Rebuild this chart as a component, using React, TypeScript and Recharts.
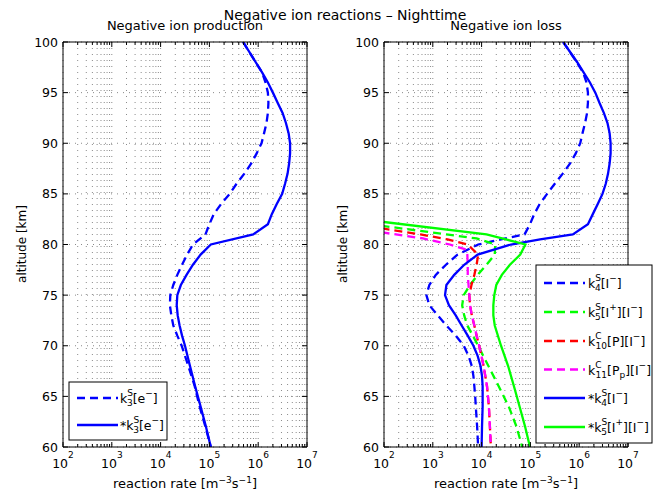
import React from 'react';
import { CartesianGrid, Line, LineChart, XAxis, YAxis } from 'recharts';

const FONT = '"DejaVu Sans", Verdana, sans-serif';

// ---- left panel: negative ion production ----
const altProd = [100, 98, 97, 96, 95, 94, 93, 92, 91, 90, 89, 88, 87, 86, 85, 84, 83, 82, 81, 80, 79, 78, 77, 76, 75, 74, 73, 72, 71, 70, 68, 66, 64, 62, 60];
const k3Dashed = [4.9e5, 8.9e5, 1.2e6, 1.41e6, 1.58e6, 1.62e6, 1.58e6, 1.48e6, 1.32e6, 1.17e6, 9.3e5, 7.2e5, 5.2e5, 3.6e5, 2.6e5, 1.74e5, 1.23e5, 1.0e5, 8.3e4, 4.6e4, 3.5e4, 2.75e4, 2.2e4, 1.82e4, 1.58e4, 1.55e4, 1.66e4, 1.82e4, 2.2e4, 2.7e4, 3.7e4, 5.0e4, 6.3e4, 8.3e4, 1.07e5];
const k3Solid = [4.9e5, 8.9e5, 1.2e6, 1.58e6, 2.0e6, 2.5e6, 3.16e6, 3.7e6, 4.2e6, 4.5e6, 4.5e6, 4.3e6, 4.0e6, 3.55e6, 3.1e6, 2.4e6, 1.9e6, 1.58e6, 7.9e5, 1.07e5, 6.6e4, 4.6e4, 3.4e4, 2.6e4, 2.2e4, 2.14e4, 2.24e4, 2.45e4, 2.75e4, 3.16e4, 4.0e4, 5.1e4, 6.6e4, 8.5e4, 1.07e5];

// ---- right panel: negative ion loss ----
const altLoss = [100, 98, 97, 96, 95, 94, 93, 92, 91, 90, 89, 88, 87, 86, 85, 84, 83, 82, 81, 80.5, 80, 79, 78, 77, 76, 75, 74, 73, 72, 71, 70, 69, 68, 67, 66, 65, 64, 62, 60];
const k4Dashed = [4.7e5, 8.9e5, 1.2e6, 1.41e6, 1.51e6, 1.51e6, 1.45e6, 1.32e6, 1.17e6, 1.05e6, 8.5e5, 6.5e5, 4.6e5, 3.16e5, 2.2e5, 1.55e5, 1.2e5, 9.8e4, 7.6e4, 2.5e4, 8.5e3, 3.2e3, 1.86e3, 1.15e3, 850, 740, 850, 1.26e3, 1.9e3, 2.95e3, 4.3e3, 5.4e3, 6.3e3, 6.8e3, 7.1e3, 7.4e3, 7.6e3, 8.1e3, 8.5e3];
const k4Solid = [4.7e5, 9.1e5, 1.23e6, 1.66e6, 2.14e6, 2.6e6, 3.2e6, 3.8e6, 4.2e6, 4.4e6, 4.4e6, 4.2e6, 3.9e6, 3.5e6, 3.0e6, 2.4e6, 1.9e6, 1.51e6, 7.4e5, 1.58e5, 4.0e4, 8.3e3, 4.4e3, 2.75e3, 1.9e3, 1.78e3, 2.14e3, 2.95e3, 3.9e3, 5.2e3, 6.8e3, 8.3e3, 9.5e3, 1.02e4, 1.05e4, 1.05e4, 1.05e4, 1.02e4, 1.0e4];

const altK5Dashed = [81.85, 81, 80.6, 80, 79, 78, 77, 76, 75, 74, 73, 72, 71, 70, 68, 66, 64, 62, 60];
const k5Dashed = [89, 1.9e3, 7.9e3, 1.9e4, 1.86e4, 1.26e4, 8.3e3, 5.8e3, 4.3e3, 4.0e3, 4.4e3, 5.1e3, 6.6e3, 8.5e3, 1.38e4, 2.24e4, 3.6e4, 5.2e4, 6.8e4];

const altK10 = [81.6, 81, 80.5, 80, 79, 78, 77, 76, 75, 74, 73, 72, 71, 70, 68, 66, 64, 62, 60];
const k10Dashed = [89, 560, 2.0e3, 5.2e3, 8.5e3, 7.9e3, 7.1e3, 6.2e3, 5.6e3, 5.8e3, 6.3e3, 7.1e3, 7.9e3, 8.9e3, 1.1e4, 1.29e4, 1.41e4, 1.48e4, 1.55e4];

const altK11 = [81.2, 80.6, 80, 79.5, 79, 78, 77, 76, 75, 74, 73, 72, 71, 70, 68, 66, 64, 62, 60];
const k11Dashed = [89, 630, 2.24e3, 4.8e3, 5.1e3, 5.2e3, 5.2e3, 5.4e3, 5.6e3, 5.8e3, 6.3e3, 7.1e3, 7.9e3, 8.9e3, 1.1e4, 1.29e4, 1.41e4, 1.48e4, 1.55e4];

const altK5Solid = [82.25, 81, 80.5, 80, 79, 78, 77, 76, 75, 74, 73, 72, 70, 68, 66, 64, 62, 60];
const k5Solid = [89, 1.26e4, 3.16e4, 7.9e4, 6.2e4, 3.8e4, 2.6e4, 2.0e4, 1.82e4, 1.74e4, 1.74e4, 1.86e4, 2.5e4, 3.5e4, 4.6e4, 6.0e4, 7.8e4, 9.8e4];

// ---- axes ----
const decades = [1e2, 1e3, 1e4, 1e5, 1e6, 1e7];
const minorSteps = [2, 3, 4, 5, 6, 7, 8, 9];
const altTicks = [60, 65, 70, 75, 80, 85, 90, 95, 100];
const xTicks = decades.flatMap((d, i) => (i < decades.length - 1 ? [d, ...minorSteps.map((m) => m * d)] : [d]));

const BLUE = '#0000ff';
const GREEN = '#00ff00';
const RED = '#ff0000';
const MAGENTA = '#ff00ff';
const DASH = '8 5';

const toRows = (alts: number[], vals: number[]) => alts.map((alt, i) => ({ alt, v: vals[i] }));

const leftSeries = [
  { key: 'k3', data: toRows(altProd, k3Dashed), color: BLUE, dash: DASH },
  { key: 'k3s', data: toRows(altProd, k3Solid), color: BLUE, dash: undefined },
];

const rightSeries = [
  { key: 'k4', data: toRows(altLoss, k4Dashed), color: BLUE, dash: DASH },
  { key: 'k5', data: toRows(altK5Dashed, k5Dashed), color: GREEN, dash: DASH },
  { key: 'k10', data: toRows(altK10, k10Dashed), color: RED, dash: DASH },
  { key: 'k11', data: toRows(altK11, k11Dashed), color: MAGENTA, dash: DASH },
  { key: 'k4s', data: toRows(altLoss, k4Solid), color: BLUE, dash: undefined },
  { key: 'k5s', data: toRows(altK5Solid, k5Solid), color: GREEN, dash: undefined },
];

const isDecade = (v: number) => Math.abs(Math.log10(v) - Math.round(Math.log10(v))) < 1e-6;

const BottomTick = (props: any) => {
  const { x, y, payload } = props;
  const major = isDecade(payload.value);
  return (
    <g>
      <line x1={x} x2={x} y1={y} y2={y - (major ? 5 : 3)} stroke="#000" />
      {major && (
        <text x={x} y={y + 21} textAnchor="middle" fontSize={12.5} fontFamily={FONT} fill="#000">
          10<tspan dy={-10} fontSize={9}>{Math.round(Math.log10(payload.value))}</tspan>
        </text>
      )}
    </g>
  );
};

const TopTick = (props: any) => {
  const { x, y, payload } = props;
  return <line x1={x} x2={x} y1={y} y2={y + (isDecade(payload.value) ? 5 : 3)} stroke="#000" />;
};

const LeftTick = (props: any) => {
  const { x, y, payload } = props;
  return (
    <g>
      <line x1={x} x2={x + 5} y1={y} y2={y} stroke="#000" />
      <text x={x - 5} y={y} dy="0.36em" textAnchor="end" fontSize={12.5} fontFamily={FONT} fill="#000">
        {payload.value}
      </text>
    </g>
  );
};

const RightTick = (props: any) => {
  const { x, y } = props;
  return <line x1={x} x2={x - 5} y1={y} y2={y} stroke="#000" />;
};

function Panel({ left, margin, series }: { left: number; margin: any; series: typeof rightSeries }) {
  return (
    <div style={{ position: 'absolute', left, top: 0 }}>
      <LineChart width={327} height={498} layout="vertical" margin={margin}>
        <CartesianGrid stroke="#8a8a8a" strokeDasharray="1 5" />
        <XAxis type="number" scale="log" domain={[1e2, 1e7]} allowDataOverflow ticks={xTicks} interval={0}
          height={30} tickSize={0} tickMargin={0} tickLine={false} tick={<BottomTick />} axisLine={{ stroke: '#000' }} />
        <XAxis xAxisId="top" orientation="top" type="number" scale="log" domain={[1e2, 1e7]} allowDataOverflow ticks={xTicks} interval={0}
          height={10} tickSize={0} tickMargin={0} tickLine={false} tick={<TopTick />} axisLine={{ stroke: '#000' }} />
        <YAxis type="number" dataKey="alt" domain={[60, 100]} reversed allowDataOverflow ticks={altTicks} interval={0}
          width={40} tickSize={0} tickMargin={0} tickLine={false} tick={<LeftTick />} axisLine={{ stroke: '#000' }} />
        <YAxis yAxisId="right" orientation="right" type="number" dataKey="alt" domain={[60, 100]} reversed allowDataOverflow ticks={altTicks} interval={0}
          width={10} tickSize={0} tickMargin={0} tickLine={false} tick={<RightTick />} axisLine={{ stroke: '#000' }} />
        {series.map((s) => (
          <Line key={s.key} data={s.data} dataKey="v" stroke={s.color} strokeWidth={2.3} strokeDasharray={s.dash}
            dot={false} activeDot={false} isAnimationActive={false} />
        ))}
      </LineChart>
    </div>
  );
}

type Lab = { star: boolean; sup: string; sub: string; rest: [string, number][] };

const leftLegend: { lab: Lab; color: string; dash?: string }[] = [
  { lab: { star: false, sup: 'S', sub: '3', rest: [['[e', 0], ['−', 1], [']', 0]] }, color: BLUE, dash: DASH },
  { lab: { star: true, sup: 'S', sub: '3', rest: [['[e', 0], ['−', 1], [']', 0]] }, color: BLUE },
];

const rightLegend: { lab: Lab; color: string; dash?: string }[] = [
  { lab: { star: false, sup: 'S', sub: '4', rest: [['[I', 0], ['−', 1], [']', 0]] }, color: BLUE, dash: DASH },
  { lab: { star: false, sup: 'S', sub: '5', rest: [['[I', 0], ['+', 1], ['][I', 0], ['−', 1], [']', 0]] }, color: GREEN, dash: DASH },
  { lab: { star: false, sup: 'C', sub: '10', rest: [['[P][I', 0], ['−', 1], [']', 0]] }, color: RED, dash: DASH },
  { lab: { star: false, sup: 'C', sub: '11', rest: [['[P', 0], ['p', -1], ['][I', 0], ['−', 1], [']', 0]] }, color: MAGENTA, dash: DASH },
  { lab: { star: true, sup: 'S', sub: '4', rest: [['[I', 0], ['−', 1], [']', 0]] }, color: BLUE },
  { lab: { star: true, sup: 'S', sub: '5', rest: [['[I', 0], ['+', 1], ['][I', 0], ['−', 1], [']', 0]] }, color: GREEN },
];

const SUP = 7;
const SUB = 3;
const SMALL = 9;

function TexLabel({ x, y, lab }: { x: number; y: number; lab: Lab }) {
  let level = -SUB;
  return (
    <text x={x} y={y} fontSize={12.5} fontFamily={FONT} fill="#000">
      <tspan>{(lab.star ? '*' : '') + 'k'}</tspan>
      <tspan dy={-SUP} fontSize={SMALL}>{lab.sup}</tspan>
      <tspan dx={-lab.sup.length * 6} dy={SUP + SUB} fontSize={SMALL}>{lab.sub}</tspan>
      {lab.rest.map(([t, lvl], i) => {
        const target = lvl === 1 ? SUP : lvl === -1 ? -SUB : 0;
        const dy = level - target;
        level = target;
        return (
          <tspan key={i} dy={dy} fontSize={lvl ? SMALL : 12.5}>{t}</tspan>
        );
      })}
    </text>
  );
}

function LegendBox({ x, y, w, h, rows, rowY, lineX, textX }: any) {
  return (
    <g>
      <rect x={x} y={y} width={w} height={h} fill="#fff" stroke="#000" />
      {rows.map((r: any, i: number) => (
        <g key={i}>
          <line x1={lineX[0]} x2={lineX[1]} y1={rowY[i]} y2={rowY[i]} stroke={r.color} strokeWidth={2.3} strokeDasharray={r.dash} />
          <TexLabel x={textX} y={rowY[i] + 5} lab={r.lab} />
        </g>
      ))}
    </g>
  );
}

export default function App() {
  return (
    <div style={{ position: 'absolute', left: 0, top: 0, width: 654, height: 498, background: '#fff', overflow: 'hidden' }}>
      <Panel left={0} margin={{ top: 32, right: 10, bottom: 21, left: 23 }} series={leftSeries} />
      <Panel left={327} margin={{ top: 32, right: 16, bottom: 21, left: 17 }} series={rightSeries} />
      <svg width={654} height={498} style={{ position: 'absolute', left: 0, top: 0, pointerEvents: 'none' }} fontFamily={FONT}>
        <text x={345} y={20} textAnchor="middle" fontSize={14}>Negative ion reactions – Nighttime</text>
        <text x={185} y={30} textAnchor="middle" fontSize={13}>Negative ion production</text>
        <text x={506} y={30} textAnchor="middle" fontSize={13}>Negative ion loss</text>

        <text x={26} y={244} textAnchor="middle" fontSize={12} transform="rotate(-90, 26, 244)">altitude [km]</text>
        <text x={347} y={244} textAnchor="middle" fontSize={12} transform="rotate(-90, 347, 244)">altitude [km]</text>

        <text x={185} y={488} textAnchor="middle" fontSize={13}>
          reaction rate [m<tspan dy={-5} fontSize={9}>−3</tspan><tspan dy={5}>s</tspan><tspan dy={-5} fontSize={9}>−1</tspan><tspan dy={5}>]</tspan>
        </text>
        <text x={506} y={488} textAnchor="middle" fontSize={13}>
          reaction rate [m<tspan dy={-5} fontSize={9}>−3</tspan><tspan dy={5}>s</tspan><tspan dy={-5} fontSize={9}>−1</tspan><tspan dy={5}>]</tspan>
        </text>

        <LegendBox x={69} y={382} w={98} h={58} rows={leftLegend} rowY={[398, 425]} lineX={[77, 118]} textX={120} />
        <LegendBox x={536} y={265} w={116} h={178} rows={rightLegend} rowY={[283, 312, 341, 369.5, 398, 427]} lineX={[544, 585]} textX={588} />
      </svg>
    </div>
  );
}
